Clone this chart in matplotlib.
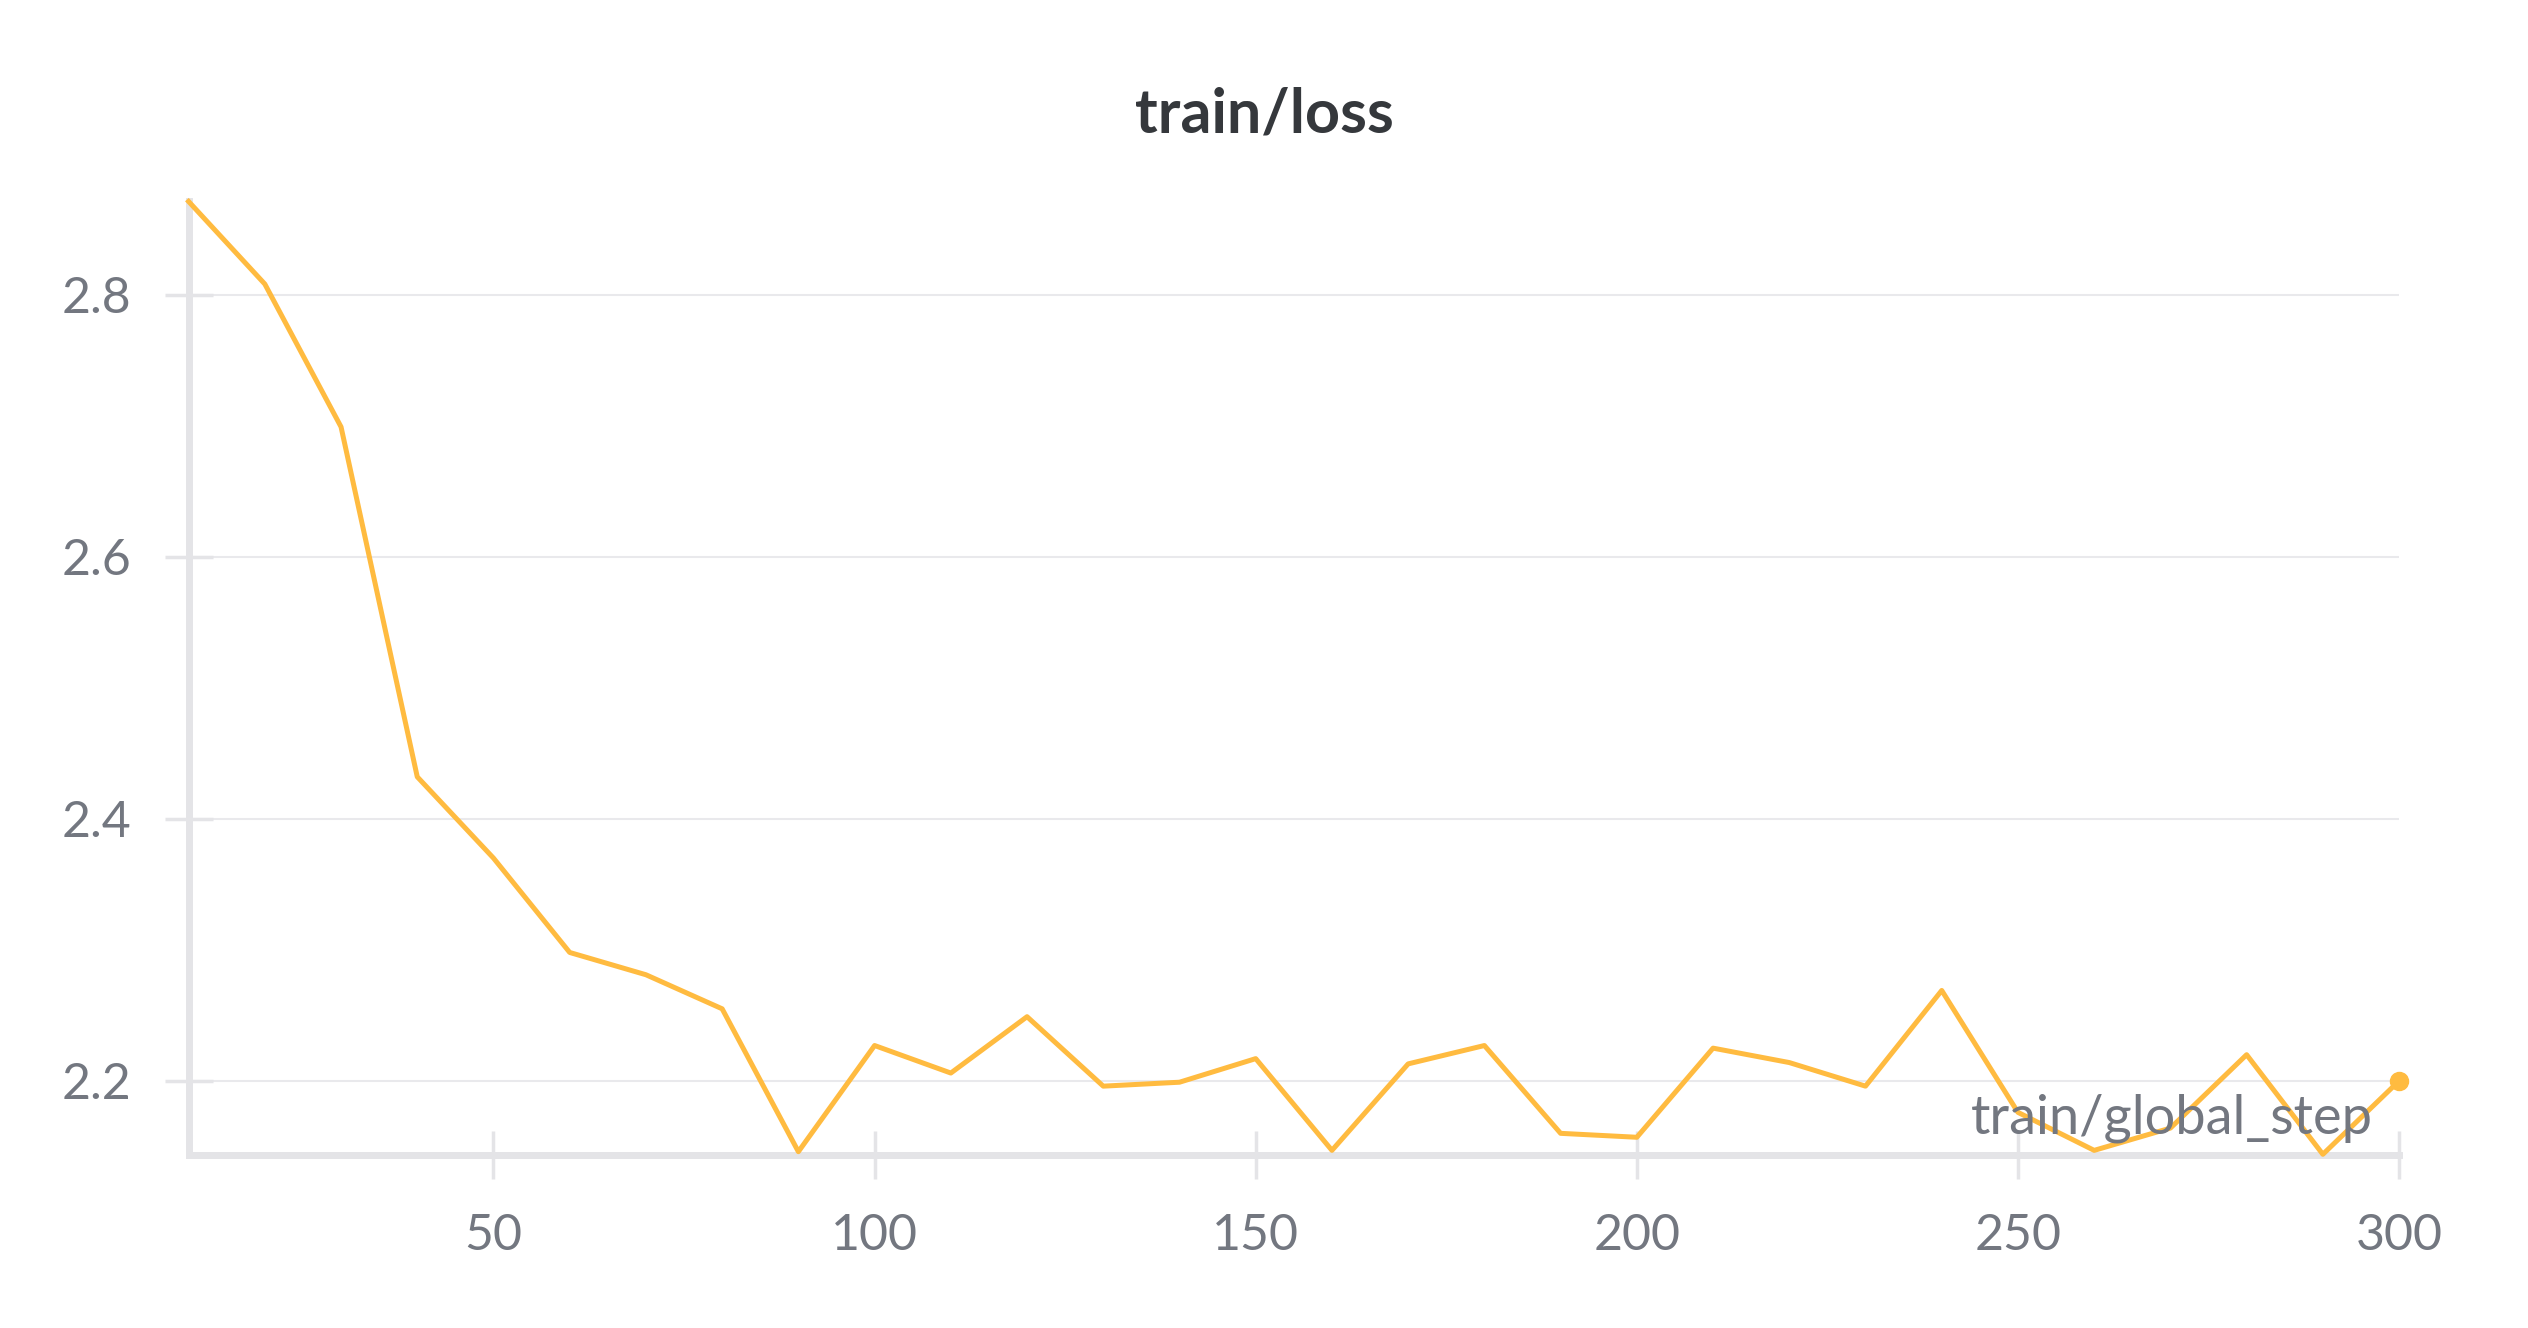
import numpy as np
import matplotlib
matplotlib.use("Agg")
import matplotlib.pyplot as plt

# values
steps = [10, 20, 30, 40, 50, 60, 70, 80, 90, 100,
         110, 120, 130, 140, 150, 160, 170, 180, 190, 200,
         210, 220, 230, 240, 250, 260, 270, 280, 290, 300]
loss = [2.871, 2.808, 2.699, 2.432, 2.370, 2.298, 2.281, 2.255, 2.146, 2.227,
        2.206, 2.249, 2.196, 2.199, 2.217, 2.147, 2.213, 2.227, 2.160, 2.157,
        2.225, 2.214, 2.196, 2.269, 2.176, 2.147, 2.164, 2.220, 2.144, 2.200]
xticks = [50, 100, 150, 200, 250, 300]
yticks = [2.2, 2.4, 2.6, 2.8]

plt.rcParams['font.family'] = ['Lato', 'DejaVu Sans']

line_col = '#ffbb40'
axis_col = '#e4e4e7'
grid_col = '#e9e9ec'
label_col = '#737780'

fig = plt.figure(figsize=(25.28, 13.28), dpi=100)
ax = fig.add_axes([0.0746, 0.1303, 0.949 - 0.0746, 0.8483 - 0.1303])

ax.plot(steps, loss, color=line_col, lw=3.6, clip_on=False, zorder=3)
ax.plot(steps[-1:], loss[-1:], 'o', color=line_col, ms=13, clip_on=False, zorder=3)

ax.set_xlim(10, 300)
ax.set_ylim(2.1435, 2.871)
ax.set_xticks(xticks)
ax.set_yticks(yticks)
ax.set_yticklabels(['%.1f' % v for v in yticks])

for s in ['top', 'right']:
    ax.spines[s].set_visible(False)
for s in ['left', 'bottom']:
    ax.spines[s].set_color(axis_col)
    ax.spines[s].set_linewidth(5)
    ax.spines[s].set_zorder(1)

ax.tick_params(axis='both', direction='inout', length=34, width=2.5,
               color=axis_col, labelcolor=label_col, labelsize=36)
ax.tick_params(axis='y', pad=24)
ax.tick_params(axis='x', pad=25)

ax.grid(axis='y', color=grid_col, lw=1.5, zorder=0)
ax.set_axisbelow(True)

ax.text(0.988, 0.023, 'train/global_step', transform=ax.transAxes,
        ha='right', va='baseline', fontsize=39, color=label_col, zorder=5)

fig.text(0.5, 0.914, 'train/loss', ha='center', va='center',
         fontsize=44, fontweight='bold', color='#35383c')

fig.savefig('out.png', dpi=100, facecolor='white')
